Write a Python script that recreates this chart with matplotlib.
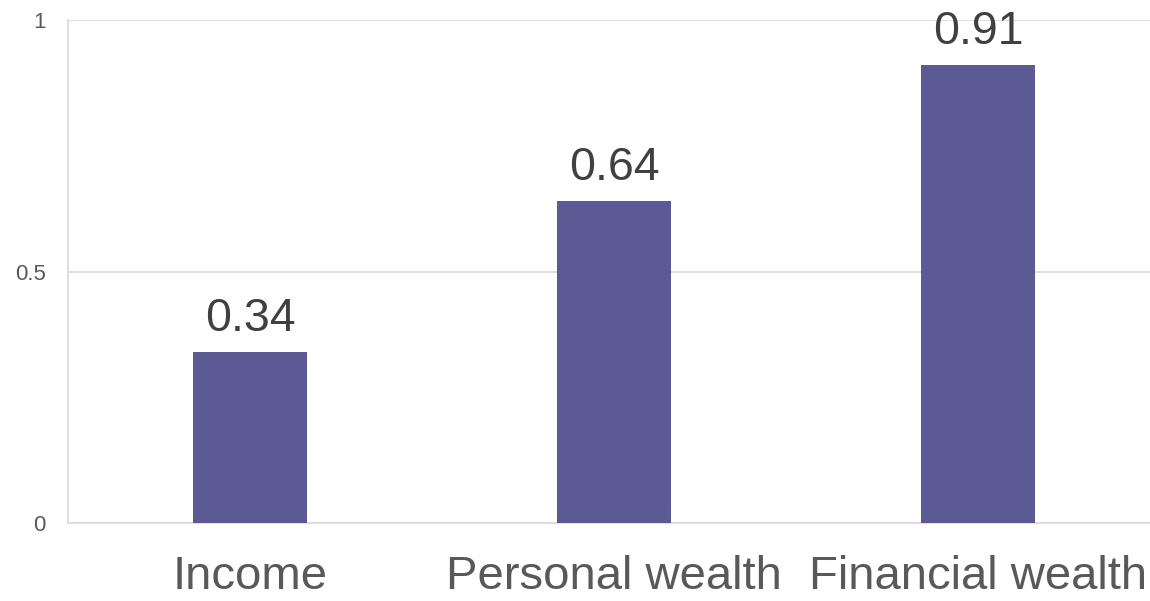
import matplotlib
matplotlib.use("Agg")
import matplotlib.pyplot as plt

# Chart data
categories = ["Income", "Personal wealth", "Financial wealth"]
values = [0.34, 0.64, 0.91]
yticks = [0, 0.5, 1]
ytick_labels = ["0", "0.5", "1"]

plt.rcParams['font.family'] = ['Liberation Sans', 'DejaVu Sans']

fig = plt.figure(figsize=(11.5, 6.01), dpi=100)
# axes run a little past the right edge, like the original
ax = fig.add_axes([68 / 1150, 78 / 601, 1092 / 1150, 503 / 601])

x = range(len(categories))
bars = ax.bar(x, values, width=0.313, color="#5B5A94", zorder=3)

# value labels above the bars
for b, v in zip(bars, values):
    ax.annotate(f"{v:.2f}", (b.get_x() + b.get_width() / 2, v),
                xytext=(0, 8), textcoords="offset points",
                ha="center", va="bottom", fontsize=33.5, color="#404040")

ax.set_xlim(-0.5, 2.5)
ax.set_ylim(0, 1)
ax.set_xticks(list(x))
ax.set_xticklabels(categories, fontsize=34, color="#595959")
ax.set_yticks(yticks)
ax.set_yticklabels(ytick_labels, fontsize=16, color="#595959")
ax.tick_params(axis="x", length=0, pad=23)
ax.tick_params(axis="y", length=0, pad=16)

ax.grid(axis="y", color="#D9D9D9", linewidth=1.2, zorder=0)
for side in ["top", "right"]:
    ax.spines[side].set_visible(False)
for side in ["left", "bottom"]:
    ax.spines[side].set_color("#D9D9D9")
    ax.spines[side].set_linewidth(1.2)

fig.savefig("out.png", dpi=100)
